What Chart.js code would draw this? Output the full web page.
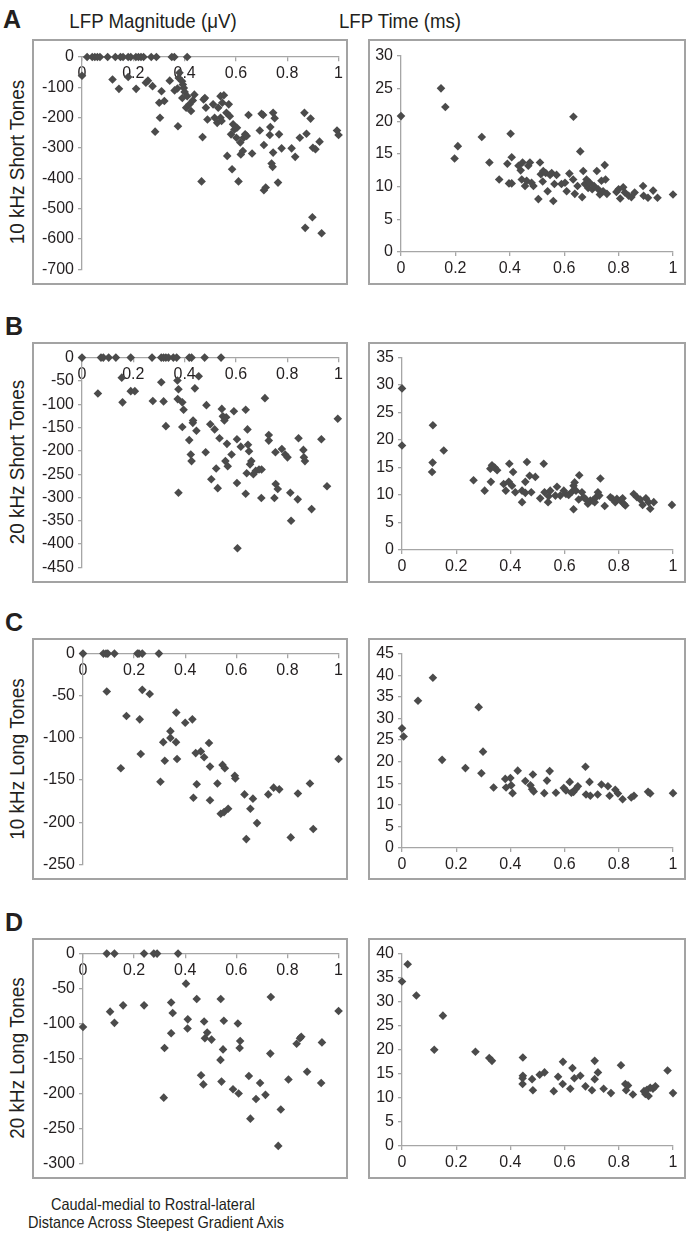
<!DOCTYPE html>
<html>
<head>
<meta charset="utf-8">
<script src="https://cdn.jsdelivr.net/npm/chart.js@4.4.1/dist/chart.umd.min.js"></script>
<style>
  body { margin: 0; background: #fff; width: 688px; height: 1239px; position: relative; overflow: hidden;
         font-family: "Liberation Sans", Arial, sans-serif; color: #231f20; }
  .box { position: absolute; border: 2px solid #a3a3a3; box-sizing: border-box; }
  .box canvas { position: absolute; left: 0; top: 0; }
  .txt { position: absolute; white-space: nowrap; line-height: 1; }
  .letter { font-weight: bold; font-size: 25px; }
  .head { font-size: 21px; transform: translateX(-50%) scaleX(0.89); }
  .row { font-size: 21px; transform: translate(-50%, -50%) rotate(-90deg) scaleX(0.9); }
  .cap { font-size: 16.5px; transform: translateX(-50%) scaleX(0.88); }
</style>
</head>
<body>
<div class="txt letter" style="left:3px;top:7px">A</div>
<div class="txt letter" style="left:5px;top:314px">B</div>
<div class="txt letter" style="left:5px;top:610px">C</div>
<div class="txt letter" style="left:5px;top:910px">D</div>
<div class="txt head" style="left:153px;top:10px">LFP Magnitude (μV)</div>
<div class="txt head" style="left:400px;top:10px">LFP Time (ms)</div>
<div class="txt row" style="left:16px;top:162px">10 kHz Short Tones</div>
<div class="txt row" style="left:16px;top:462px">20 kHz Short Tones</div>
<div class="txt row" style="left:16px;top:759px">10 kHz Long Tones</div>
<div class="txt row" style="left:16px;top:1058px">20 kHz Long Tones</div>
<div class="txt cap" style="left:153px;top:1196px">Caudal-medial to Rostral-lateral</div>
<div class="txt cap" style="left:156px;top:1214px">Distance Across Steepest Gradient Axis</div>

<script>
// ---------------- Tick labels ----------------
const xTicks = [0, 0.2, 0.4, 0.6, 0.8, 1];
const magTicksA = [0, -100, -200, -300, -400, -500, -600, -700];
const magTicksB = [0, -50, -100, -150, -200, -250, -300, -350, -400, -450];
const magTicksC = [0, -50, -100, -150, -200, -250];
const magTicksD = [0, -50, -100, -150, -200, -250, -300];
const timeTicksA = [0, 5, 10, 15, 20, 25, 30];
const timeTicksB = [0, 5, 10, 15, 20, 25, 30, 35];
const timeTicksC = [0, 5, 10, 15, 20, 25, 30, 35, 40, 45];
const timeTicksD = [0, 5, 10, 15, 20, 25, 30, 35, 40];

// ---------------- Data: [distance, value] ----------------
const magShort10 = [
  [0.02,0],[0.04,0],[0.05,0],[0.06,0],[0.07,0],[0.10,0],[0.13,0],[0.15,0],[0.16,0],[0.18,0],
  [0.19,0],[0.21,0],[0.22,0],[0.23,0],[0.24,0],[0.27,0],[0.29,0],[0.35,0],[0.36,0],[0.41,0],
  [0.0,-62],[0.18,-66],[0.38,-52],
  [0.119,-74],[0.144,-105],[0.211,-105],[0.249,-85],[0.257,-78],[0.275,-96],[0.285,-246],[0.301,-151],
  [0.310,-113],[0.304,-200],[0.321,-145],[0.342,-78],[0.361,-110],[0.372,-104],[0.374,-228],[0.377,-69],
  [0.390,-80],[0.393,-91],[0.397,-102],[0.400,-115],[0.391,-135],[0.410,-129],[0.406,-167],[0.425,-178],
  [0.419,-156],[0.432,-143],[0.438,-124],[0.466,-410],[0.470,-264],[0.474,-140],[0.479,-135],[0.489,-206],
  [0.483,-167],[0.511,-156],[0.517,-200],[0.527,-217],[0.531,-167],[0.540,-200],[0.547,-151],[0.540,-129],
  [0.553,-126],[0.544,-211],[0.563,-184],[0.566,-326],[0.572,-156],[0.576,-195],[0.585,-370],[0.589,-222],
  [0.581,-255],[0.594,-239],[0.602,-266],[0.610,-410],[0.604,-233],[0.617,-282],[0.619,-321],[0.627,-310],
  [0.630,-266],[0.636,-255],[0.642,-260],[0.649,-191],[0.663,-318],[0.693,-242],[0.700,-187],[0.706,-191],
  [0.709,-290],[0.709,-439],[0.716,-430],[0.732,-257],[0.734,-231],[0.739,-351],[0.743,-362],[0.745,-184],
  [0.751,-202],[0.745,-315],[0.764,-414],[0.768,-255],[0.778,-301],[0.817,-301],[0.831,-329],[0.849,-266],
  [0.867,-184],[0.875,-253],[0.891,-203],[0.870,-563],[0.898,-528],[0.900,-299],[0.910,-304],[0.926,-279],
  [0.934,-581],[0.994,-242],[1.0,-257]
];
const timeShort10 = [
  [0,20.8],[0.147,25.05],[0.163,22.2],[0.197,14.3],[0.209,16.2],[0.297,17.6],[0.325,13.7],[0.361,11.1],
  [0.391,13.5],[0.403,18.1],[0.407,14.5],[0.397,10.5],[0.407,10.5],[0.432,13.2],[0.440,12.5],[0.447,13.7],
  [0.444,11.1],[0.456,10.1],[0.462,10.9],[0.468,13.2],[0.474,13.7],[0.480,10.6],[0.487,10.1],[0.505,8.1],
  [0.511,13.7],[0.514,11.9],[0.521,10.8],[0.523,12.4],[0.532,12.1],[0.539,9.3],[0.548,11.8],[0.554,12.1],
  [0.560,7.8],[0.564,10.4],[0.572,11.8],[0.590,10.4],[0.603,10.6],[0.609,9.3],[0.619,12.0],[0.633,11.1],
  [0.639,8.9],[0.634,20.7],[0.649,10.1],[0.659,15.4],[0.666,8.4],[0.670,12.4],[0.676,10.4],[0.682,11.1],
  [0.688,9.8],[0.694,10.6],[0.703,9.6],[0.710,10.1],[0.720,12.4],[0.725,9.6],[0.731,8.8],[0.737,10.9],
  [0.743,9.3],[0.749,13.3],[0.752,11.1],[0.757,8.9],[0.792,9.2],[0.800,9.6],[0.806,8.2],[0.817,9.9],
  [0.823,9.1],[0.837,8.6],[0.847,8.4],[0.859,9.1],[0.890,10.1],[0.892,8.6],[0.908,8.3],[0.927,9.4],
  [0.943,8.3],[1.0,8.8]
];
const magShort20 = [
  [0,0],[0.074,0],[0.083,0],[0.104,0],[0.132,0],[0.19,0],[0.273,0],[0.309,0],[0.318,0],[0.327,0],
  [0.337,0],[0.356,0],[0.369,0],[0.418,0],[0.427,0],[0.478,0],[0.542,0],
  [0.062,-77],[0.155,-43],[0.158,-96],[0.190,-72],[0.206,-72],[0.276,-93],[0.309,-53],[0.318,-94],
  [0.327,-147],[0.372,-49],[0.376,-68],[0.373,-89],[0.376,-290],[0.391,-96],[0.396,-112],[0.391,-149],
  [0.418,-177],[0.424,-208],[0.427,-222],[0.432,-140],[0.433,-135],[0.446,-157],[0.440,-66],[0.455,-40],
  [0.485,-102],[0.482,-203],[0.500,-143],[0.504,-261],[0.517,-154],[0.523,-238],[0.529,-280],[0.536,-173],
  [0.545,-110],[0.549,-126],[0.555,-135],[0.562,-128],[0.565,-185],[0.559,-222],[0.568,-233],[0.583,-208],
  [0.592,-115],[0.604,-269],[0.606,-409],[0.604,-175],[0.619,-191],[0.638,-112],[0.645,-154],[0.647,-187],
  [0.651,-201],[0.638,-292],[0.642,-248],[0.655,-229],[0.660,-222],[0.668,-250],[0.677,-243],[0.690,-240],
  [0.700,-240],[0.699,-301],[0.713,-87],[0.728,-166],[0.728,-178],[0.750,-301],[0.754,-203],[0.755,-271],
  [0.763,-282],[0.779,-196],[0.792,-208],[0.801,-214],[0.812,-290],[0.815,-350],[0.841,-304],[0.844,-173],
  [0.863,-198],[0.865,-214],[0.869,-222],[0.895,-325],[0.933,-175],[0.955,-276],[0.997,-131]
];
const timeShort20 = [
  [0,29.4],[0,19.0],[0.114,22.7],[0.113,15.9],[0.111,14.2],[0.154,18.1],[0.264,12.7],[0.305,10.8],
  [0.326,14.8],[0.332,15.4],[0.342,15.0],[0.351,14.5],[0.328,12.4],[0.375,12.0],[0.383,10.8],[0.396,15.7],
  [0.394,12.4],[0.406,11.7],[0.410,14.2],[0.418,10.5],[0.443,10.8],[0.443,8.7],[0.455,12.4],[0.461,16.0],
  [0.455,10.4],[0.471,13.5],[0.477,10.5],[0.492,13.3],[0.510,9.4],[0.523,15.7],[0.526,10.5],[0.539,8.7],
  [0.541,9.8],[0.547,10.8],[0.566,9.9],[0.572,11.5],[0.584,9.9],[0.597,10.8],[0.605,10.2],[0.615,10.0],
  [0.627,10.6],[0.633,11.7],[0.637,12.3],[0.633,7.4],[0.642,10.8],[0.652,9.2],[0.654,13.6],[0.664,10.5],
  [0.670,9.6],[0.677,9.3],[0.686,8.4],[0.695,9.0],[0.704,9.0],[0.711,8.7],[0.716,9.6],[0.723,10.5],
  [0.728,9.9],[0.732,13.0],[0.748,8.0],[0.769,9.6],[0.777,9.3],[0.787,8.7],[0.793,9.3],[0.806,9.0],
  [0.814,9.4],[0.818,8.4],[0.824,8.1],[0.855,10.2],[0.867,9.6],[0.879,9.2],[0.888,8.2],[0.900,9.4],
  [0.910,8.7],[0.916,7.5],[0.929,8.7],[0.996,8.2]
];
const magLong10 = [
  [0,0],[0.08,0],[0.09,0],[0.097,0],[0.123,0],[0.213,0],[0.219,0],[0.232,0],[0.297,0],
  [0.093,-45],[0.170,-74],[0.148,-136],[0.222,-78],[0.226,-119],[0.232,-43],[0.261,-48],[0.303,-152],
  [0.314,-105],[0.320,-127],[0.342,-92],[0.342,-100],[0.364,-105],[0.368,-125],[0.365,-70],[0.400,-82],
  [0.428,-78],[0.432,-171],[0.441,-118],[0.445,-155],[0.461,-116],[0.474,-123],[0.493,-106],[0.497,-134],
  [0.497,-174],[0.526,-154],[0.539,-190],[0.546,-132],[0.555,-136],[0.552,-188],[0.568,-184],[0.594,-145],
  [0.596,-148],[0.632,-167],[0.639,-220],[0.655,-184],[0.665,-172],[0.681,-201],[0.725,-167],[0.746,-159],
  [0.768,-161],[0.813,-218],[0.841,-166],[0.888,-154],[0.901,-208],[1.0,-125]
];
const timeLong10 = [
  [0,27.7],[0.006,25.8],[0.059,34.1],[0.114,39.4],[0.148,20.4],[0.234,18.5],[0.283,32.6],[0.293,17.3],
  [0.299,22.3],[0.338,14.0],[0.381,16.0],[0.384,14.0],[0.400,16.2],[0.403,14.5],[0.408,12.7],[0.427,17.9],
  [0.455,15.5],[0.474,14.5],[0.480,13.6],[0.483,17.0],[0.486,13.1],[0.525,12.7],[0.535,15.6],[0.545,17.8],
  [0.568,12.8],[0.597,13.9],[0.605,13.3],[0.619,15.3],[0.625,12.8],[0.633,13.0],[0.642,13.7],[0.649,14.3],
  [0.677,18.8],[0.679,12.4],[0.692,15.3],[0.695,12.1],[0.722,12.4],[0.736,14.7],[0.760,14.3],[0.766,12.1],
  [0.787,13.5],[0.797,12.6],[0.814,11.3],[0.846,11.7],[0.856,12.1],[0.908,13.0],[0.916,12.6],[1.0,12.7]
];
const magLong20 = [
  [0.093,0],[0.123,0],[0.239,0],[0.277,0],[0.29,0],[0.372,0],
  [0,-105],[0.106,-83],[0.123,-99],[0.157,-74],[0.239,-74],[0.319,-135],[0.316,-206],[0.345,-70],
  [0.351,-85],[0.345,-114],[0.403,-43],[0.410,-94],[0.409,-107],[0.445,-65],[0.462,-174],[0.471,-187],
  [0.474,-97],[0.477,-121],[0.486,-113],[0.503,-123],[0.539,-65],[0.538,-152],[0.542,-183],[0.548,-137],
  [0.551,-96],[0.587,-194],[0.606,-100],[0.609,-200],[0.613,-135],[0.615,-125],[0.649,-175],[0.655,-236],
  [0.677,-208],[0.693,-185],[0.714,-202],[0.733,-143],[0.735,-62],[0.764,-275],[0.774,-223],[0.804,-180],
  [0.836,-129],[0.849,-121],[0.854,-119],[0.877,-169],[0.932,-185],[0.935,-127],[1.0,-82]
];
const timeLong20 = [
  [0,34.2],[0.021,37.8],[0.053,31.3],[0.151,27.1],[0.119,20.0],[0.271,19.6],[0.322,18.3],[0.332,17.7],
  [0.446,18.4],[0.446,14.6],[0.445,14.1],[0.445,12.9],[0.480,13.9],[0.483,11.6],[0.508,14.8],[0.526,15.3],
  [0.560,11.4],[0.576,14.4],[0.593,12.9],[0.594,17.5],[0.621,11.9],[0.629,16.2],[0.636,14.1],[0.658,14.6],
  [0.677,12.4],[0.701,11.6],[0.711,13.9],[0.711,17.7],[0.723,15.3],[0.744,11.9],[0.771,11.0],[0.808,16.8],
  [0.824,12.9],[0.827,11.6],[0.834,12.6],[0.852,10.7],[0.893,11.4],[0.898,10.8],[0.904,11.7],[0.910,10.4],
  [0.916,12.1],[0.926,11.9],[0.935,12.4],[0.980,15.7],[1.0,11.0]
];

// ---------------- Panels (box and plot area in page px) ----------------
const panels = [
  { data: magShort10,  yTicks: magTicksA,  mag: true,  box: [32, 39, 316, 246],   area: [82, 57, 343, 271] },
  { data: timeShort10, yTicks: timeTicksA, mag: false, box: [368, 39, 318, 246],  area: [401, 56, 673, 252] },
  { data: magShort20,  yTicks: magTicksB,  mag: true,  box: [32, 342, 316, 241],  area: [82, 354, 342, 568] },
  { data: timeShort20, yTicks: timeTicksB, mag: false, box: [368, 342, 318, 241], area: [402, 355, 673, 550] },
  { data: magLong10,   yTicks: magTicksC,  mag: true,  box: [32, 638, 316, 242],  area: [83, 652, 342, 867] },
  { data: timeLong10,  yTicks: timeTicksC, mag: false, box: [368, 638, 318, 242], area: [402, 652, 673, 848] },
  { data: magLong20,   yTicks: magTicksD,  mag: true,  box: [32, 938, 316, 241],  area: [83, 950, 342, 1164] },
  { data: timeLong20,  yTicks: timeTicksD, mag: false, box: [368, 938, 318, 241], area: [402, 950, 673, 1146] }
];

const axisColor = "#a6a6a6";
const textColor = "#231f20";
const tickFont = { family: "'Liberation Sans', Arial, sans-serif", size: 16 };

function drawPanel(p) {
  const [bx, by, bw, bh] = p.box;
  const div = document.createElement("div");
  div.className = "box";
  div.style.left = bx + "px";
  div.style.top = by + "px";
  div.style.width = bw + "px";
  div.style.height = bh + "px";
  const cw = bw - 4, ch = bh - 4;
  const canvas = document.createElement("canvas");
  canvas.width = cw;
  canvas.height = ch;
  canvas.style.width = cw + "px";
  canvas.style.height = ch + "px";
  div.appendChild(canvas);
  document.body.appendChild(div);

  const ox = bx + 2, oy = by + 2;
  const left = p.area[0] - ox, top = p.area[1] - oy;
  const right = p.area[2] - ox, bottom = p.area[3] - oy;
  const yT = p.yTicks;

  new Chart(canvas, {
    type: "scatter",
    data: {
      datasets: [{
        data: p.data.map(d => ({ x: d[0], y: d[1] })),
        pointStyle: "rectRot",
        pointRadius: 4.3,
        backgroundColor: "#4b4b4b",
        borderWidth: 0,
        clip: false
      }]
    },
    options: {
      responsive: false,
      animation: false,
      events: [],
      layout: { padding: { left: 0, top: top, right: cw - right, bottom: p.mag ? ch - bottom : 0 } },
      plugins: { legend: { display: false }, tooltip: { enabled: false } },
      scales: {
        x: {
          type: "linear",
          min: 0,
          max: 1,
          position: p.mag ? { y: 0 } : "bottom",
          afterBuildTicks: s => { s.ticks = xTicks.map(v => ({ value: v })); },
          afterFit: s => { if (!p.mag) s.height = ch - bottom; },
          grid: { drawOnChartArea: false, tickLength: 4, color: axisColor, lineWidth: 1.3 },
          border: { color: axisColor, width: 1.3 },
          ticks: { color: textColor, font: tickFont, padding: 3, maxRotation: 0, autoSkip: false,
                   callback: v => String(Math.round(v * 10) / 10) }
        },
        y: {
          type: "linear",
          min: Math.min(...yT),
          max: Math.max(...yT),
          position: "left",
          afterBuildTicks: s => { s.ticks = yT.slice().sort((a, b) => a - b).map(v => ({ value: v })); },
          afterFit: s => { s.width = left; },
          grid: { drawOnChartArea: false, tickLength: 4, color: axisColor, lineWidth: 1.3 },
          border: { color: axisColor, width: 1.3 },
          ticks: { color: textColor, font: tickFont, padding: 4, autoSkip: false,
                   callback: v => String(v) }
        }
      }
    }
  });
}

panels.forEach(drawPanel);
</script>
</body>
</html>
